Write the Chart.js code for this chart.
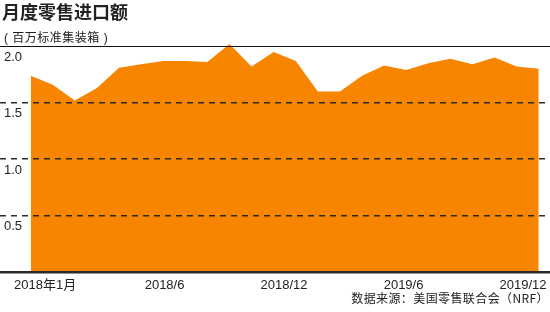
<!DOCTYPE html>
<html lang="zh-CN">
<head>
<meta charset="utf-8">
<script src="https://cdn.jsdelivr.net/npm/chart.js@4/dist/chart.umd.min.js"></script>
<style>
  html, body { margin: 0; padding: 0; background: #fff; }
  #wrap { position: relative; width: 550px; height: 312px; }
  .txt { position: absolute; color: #222; white-space: nowrap; font-family: "Liberation Sans", "Noto Sans CJK SC", sans-serif; }
  #title { left: 2px; top: -2px; font-size: 18px; font-weight: bold; font-family: "Noto Sans CJK SC", sans-serif; }
  #sub { left: 4px; top: 28px; font-size: 12px; letter-spacing: 0.5px; }
  #src { right: 1px; top: 289px; font-size: 12px; letter-spacing: 0.4px; font-family: "Noto Sans CJK SC", sans-serif; }
</style>
</head>
<body>
<div id="wrap">
  <canvas id="chart"></canvas>
  <div class="txt" id="title">月度零售进口额</div>
  <div class="txt" id="sub">( 百万标准集装箱 )</div>
  <div class="txt" id="src">数据来源：美国零售联合会（NRF）</div>
</div>
<script>
// =======================
// DATA
// =======================
// monthly retail imports, Jan 2018 - Dec 2019 (million TEU)
const months = [
  '2018-01', '2018-02', '2018-03', '2018-04', '2018-05', '2018-06',
  '2018-07', '2018-08', '2018-09', '2018-10', '2018-11', '2018-12',
  '2019-01', '2019-02', '2019-03', '2019-04', '2019-05', '2019-06',
  '2019-07', '2019-08', '2019-09', '2019-10', '2019-11', '2019-12'
];
const imports = [
  1.74, 1.66, 1.52, 1.63, 1.81, 1.84,
  1.87, 1.87, 1.86, 2.02, 1.82, 1.95,
  1.87, 1.60, 1.60, 1.74, 1.83, 1.79,
  1.85, 1.89, 1.84, 1.90, 1.82, 1.80
];
const xLabels = ['2018年1月', '2018/6', '2018/12', '2019/6', '2019/12'];
const yTicks = [0, 0.5, 1.0, 1.5, 2.0];

const tickFont = { family: '"Liberation Sans", "Noto Sans CJK SC", sans-serif', size: 13 };

// =======================
// DRAW CHART
// =======================
let chart = new Chart(document.getElementById('chart').getContext('2d'), {
  type: 'line',
  data: {
    datasets: [{
      data: imports.map((v, i) => ({ x: i, y: v })),
      backgroundColor: '#F88500',
      borderWidth: 0,
      pointRadius: 0,
      fill: 'origin',
      tension: 0
    }]
  },
  options: {
    responsive: true,
    maintainAspectRatio: false,
    animation: false,
    layout: { padding: { top: 35, bottom: 18, left: 0, right: 0 } },
    plugins: {
      legend: { display: false },
      tooltip: { enabled: false }
    },
    scales: {
      x: {
        type: 'linear',
        min: -1.39,
        max: 23.51,
        grid: { display: false, drawTicks: false },
        border: { display: false },
        afterBuildTicks: s => {
          // labels sit evenly along the axis, not on the months
          s.ticks = xLabels.map((l, k) => ({ value: 0.65 + k * 5.41 }));
        },
        afterFit: s => {
          s.height = 22;
          s.paddingLeft = 0;
          s.paddingRight = 0;
        },
        ticks: {
          autoSkip: false,
          maxRotation: 0,
          padding: 6,
          color: '#222',
          font: tickFont,
          callback: (v, i) => xLabels[i]
        }
      },
      y: {
        min: 0,
        max: 2.1,
        afterBuildTicks: s => { s.ticks = yTicks.map(v => ({ value: v })); },
        afterFit: s => {
          s.width = 0;
          s.paddingTop = 0;
          s.paddingBottom = 0;
        },
        grid: {
          z: 1,   // grid on top of the orange area
          drawTicks: false,
          color: c => c.tick && c.tick.value === 2 ? '#111' : '#2a2a2a',
          lineWidth: c => c.tick && c.tick.value === 0 ? 2.5 : (c.tick && c.tick.value === 2 ? 1 : 1.5)
        },
        border: {
          display: false,
          dash: c => c.tick && (c.tick.value === 0 || c.tick.value === 2) ? [] : [6, 5]
        },
        ticks: {
          z: 1,
          mirror: true,
          padding: 4,
          labelOffset: 11,
          color: '#222',
          font: tickFont,
          callback: v => v === 0 ? '' : v.toFixed(1)
        }
      }
    }
  }
});
</script>
</body>
</html>
